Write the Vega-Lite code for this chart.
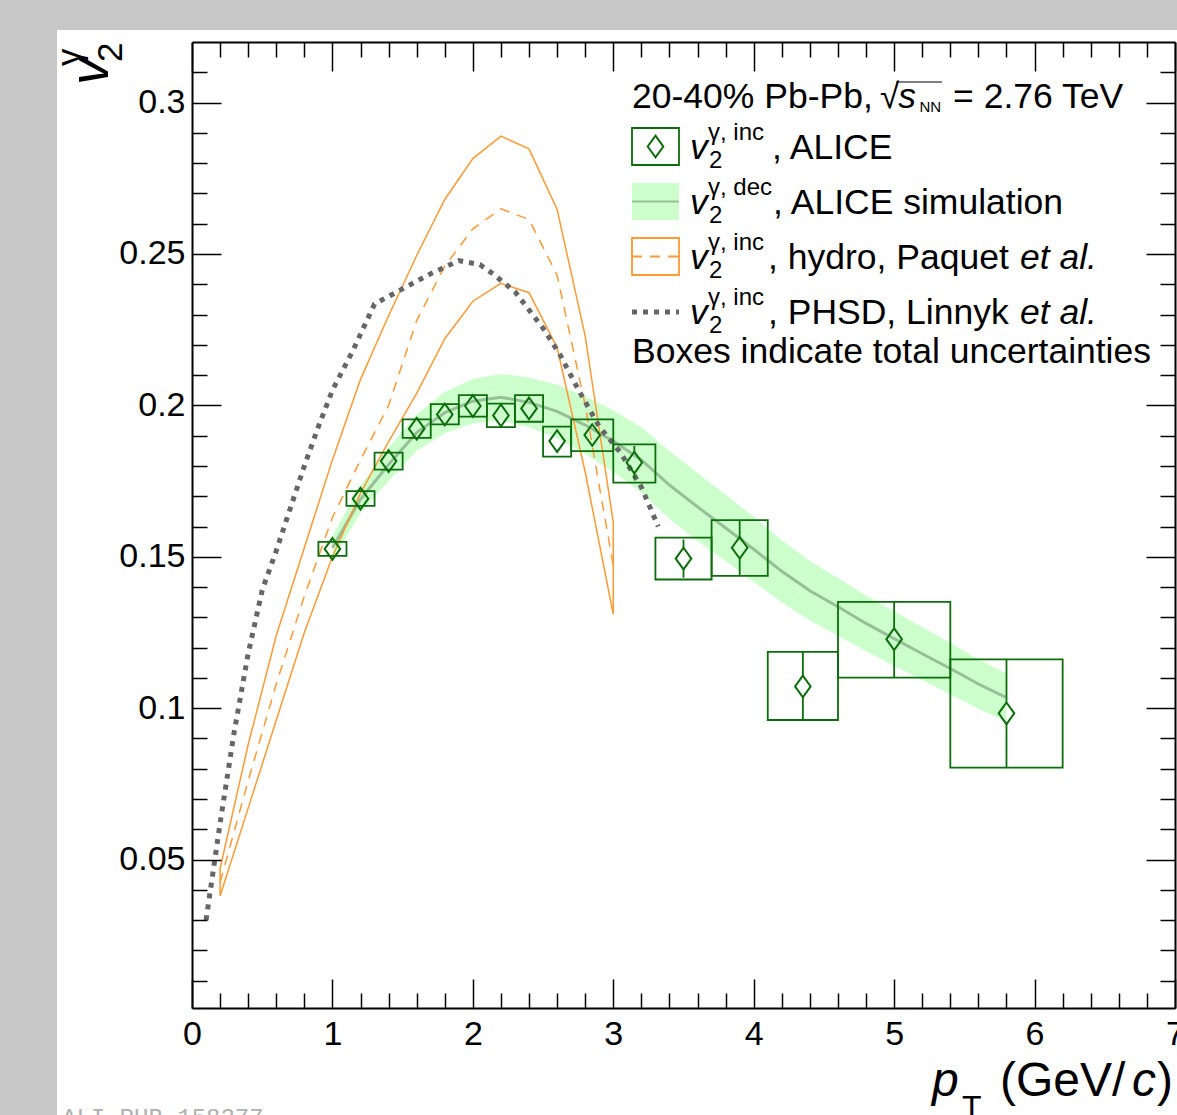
{
"$schema":"https://vega.github.io/schema/vega-lite/v6.json",
"width":983,"height":966,
"autosize":{"type":"none"},
"padding":{"left":192,"top":42,"right":2,"bottom":107},
"background":"#c6c7c6",
"config":{"view":{"stroke":null},"text":{"font":"Liberation Sans","color":"#000"}},
"data":{"values":[{}]},
"datasets":{
"alice":[
{"pt":1.0,"v2":0.1526,"xlo":0.9,"xhi":1.1,"slo":0.1503,"shi":0.1549},
{"pt":1.2,"v2":0.1692,"xlo":1.1,"xhi":1.3,"slo":0.1668,"shi":0.1717},
{"pt":1.4,"v2":0.1816,"xlo":1.3,"xhi":1.5,"slo":0.1788,"shi":0.1844},
{"pt":1.6,"v2":0.1923,"xlo":1.5,"xhi":1.7,"slo":0.1893,"shi":0.1954},
{"pt":1.8,"v2":0.197,"xlo":1.7,"xhi":1.9,"slo":0.1937,"shi":0.2004},
{"pt":2.0,"v2":0.1998,"xlo":1.9,"xhi":2.1,"slo":0.1963,"shi":0.2034},
{"pt":2.2,"v2":0.1967,"xlo":2.1,"xhi":2.3,"slo":0.1928,"shi":0.2006},
{"pt":2.4,"v2":0.199,"xlo":2.3,"xhi":2.5,"slo":0.1946,"shi":0.2034},
{"pt":2.6,"v2":0.1882,"xlo":2.5,"xhi":2.7,"slo":0.1831,"shi":0.193},
{"pt":2.85,"v2":0.1902,"xlo":2.7,"xhi":3.0,"slo":0.1849,"shi":0.1954},
{"pt":3.15,"v2":0.1811,"xlo":3.0,"xhi":3.3,"slo":0.1745,"shi":0.1871,"elo":0.1756,"ehi":0.1866},
{"pt":3.5,"v2":0.1494,"xlo":3.3,"xhi":3.7,"slo":0.1425,"shi":0.1563,"elo":0.1431,"ehi":0.1557},
{"pt":3.9,"v2":0.153,"xlo":3.7,"xhi":4.1,"slo":0.1437,"shi":0.1621,"elo":0.1437,"ehi":0.1621},
{"pt":4.35,"v2":0.1072,"xlo":4.1,"xhi":4.6,"slo":0.0961,"shi":0.1186,"elo":0.0961,"ehi":0.1186},
{"pt":5.0,"v2":0.1228,"xlo":4.6,"xhi":5.4,"slo":0.1101,"shi":0.1351,"elo":0.1101,"ehi":0.1351},
{"pt":5.8,"v2":0.0983,"xlo":5.4,"xhi":6.2,"slo":0.0804,"shi":0.1161,"elo":0.0804,"ehi":0.1161}
],
"band":[
{"pt":1.0,"mid":0.153,"lo":0.149,"hi":0.157},
{"pt":1.2,"mid":0.169,"lo":0.1645,"hi":0.1735},
{"pt":1.4,"mid":0.1805,"lo":0.175,"hi":0.186},
{"pt":1.6,"mid":0.191,"lo":0.185,"hi":0.197},
{"pt":1.8,"mid":0.1976,"lo":0.1908,"hi":0.2044},
{"pt":2.0,"mid":0.2014,"lo":0.1941,"hi":0.2087},
{"pt":2.2,"mid":0.2027,"lo":0.195,"hi":0.2104},
{"pt":2.4,"mid":0.201,"lo":0.1928,"hi":0.2092},
{"pt":2.6,"mid":0.198,"lo":0.1892,"hi":0.2068},
{"pt":2.8,"mid":0.1935,"lo":0.184,"hi":0.203},
{"pt":3.0,"mid":0.1882,"lo":0.178,"hi":0.1984},
{"pt":3.2,"mid":0.182,"lo":0.1712,"hi":0.1928},
{"pt":3.4,"mid":0.1737,"lo":0.1625,"hi":0.1849},
{"pt":3.6,"mid":0.1665,"lo":0.1553,"hi":0.1777},
{"pt":3.8,"mid":0.1595,"lo":0.1485,"hi":0.1705},
{"pt":4.0,"mid":0.1525,"lo":0.1418,"hi":0.1632},
{"pt":4.2,"mid":0.1452,"lo":0.1349,"hi":0.1555},
{"pt":4.4,"mid":0.1388,"lo":0.129,"hi":0.1486},
{"pt":4.6,"mid":0.1335,"lo":0.124,"hi":0.143},
{"pt":4.8,"mid":0.128,"lo":0.1188,"hi":0.1372},
{"pt":5.0,"mid":0.123,"lo":0.114,"hi":0.132},
{"pt":5.2,"mid":0.118,"lo":0.1093,"hi":0.1267},
{"pt":5.4,"mid":0.1131,"lo":0.1046,"hi":0.1216},
{"pt":5.6,"mid":0.108,"lo":0.0998,"hi":0.1162},
{"pt":5.8,"mid":0.1035,"lo":0.0955,"hi":0.1115}
],
"hydro":[
{"pt":0.2,"v2":0.038,"seq":1},{"pt":0.4,"v2":0.067,"seq":2},{"pt":0.6,"v2":0.096,"seq":3},{"pt":0.8,"v2":0.125,"seq":4},
{"pt":1.0,"v2":0.150,"seq":5},{"pt":1.2,"v2":0.171,"seq":6},{"pt":1.4,"v2":0.188,"seq":7},{"pt":1.6,"v2":0.204,"seq":8},
{"pt":1.8,"v2":0.222,"seq":9},{"pt":2.0,"v2":0.2344,"seq":10},{"pt":2.2,"v2":0.2403,"seq":11},{"pt":2.4,"v2":0.2372,"seq":12},
{"pt":2.6,"v2":0.2191,"seq":13},{"pt":2.8,"v2":0.178,"seq":14},{"pt":3.0,"v2":0.131,"seq":15},
{"pt":3.0,"v2":0.1613,"seq":16},{"pt":2.8,"v2":0.2229,"seq":17},{"pt":2.6,"v2":0.2647,"seq":18},{"pt":2.4,"v2":0.2847,"seq":19},
{"pt":2.2,"v2":0.2889,"seq":20},{"pt":2.0,"v2":0.2815,"seq":21},{"pt":1.8,"v2":0.268,"seq":22},{"pt":1.6,"v2":0.2495,"seq":23},
{"pt":1.4,"v2":0.2296,"seq":24},{"pt":1.2,"v2":0.2086,"seq":25},{"pt":1.0,"v2":0.182,"seq":26},{"pt":0.8,"v2":0.153,"seq":27},
{"pt":0.6,"v2":0.124,"seq":28},{"pt":0.4,"v2":0.088,"seq":29},{"pt":0.2,"v2":0.047,"seq":30},{"pt":0.2,"v2":0.038,"seq":31}
],
"hydroCentral":[
{"pt":0.2,"v2":0.0425},{"pt":0.4,"v2":0.076},{"pt":0.6,"v2":0.108},{"pt":0.8,"v2":0.137},{"pt":1.0,"v2":0.163},
{"pt":1.2,"v2":0.182},{"pt":1.4,"v2":0.2},{"pt":1.6,"v2":0.228},{"pt":1.8,"v2":0.246},{"pt":2.0,"v2":0.2583},
{"pt":2.2,"v2":0.2649},{"pt":2.4,"v2":0.2614},{"pt":2.6,"v2":0.243},{"pt":2.8,"v2":0.2},{"pt":3.0,"v2":0.147}
],
"phsd":[
{"pt":0.1,"v2":0.030},{"pt":0.2,"v2":0.062},{"pt":0.3,"v2":0.092},{"pt":0.4,"v2":0.118},{"pt":0.5,"v2":0.139},
{"pt":0.6,"v2":0.152},{"pt":0.7,"v2":0.166},{"pt":0.8,"v2":0.18},{"pt":0.9,"v2":0.193},{"pt":1.0,"v2":0.205},
{"pt":1.15,"v2":0.2185},{"pt":1.3,"v2":0.2335},{"pt":1.5,"v2":0.2385},{"pt":1.7,"v2":0.2435},{"pt":1.9,"v2":0.2478},
{"pt":2.05,"v2":0.2465},{"pt":2.15,"v2":0.2432},{"pt":2.3,"v2":0.2375},{"pt":2.5,"v2":0.2255},{"pt":2.62,"v2":0.2168},
{"pt":2.75,"v2":0.2053},{"pt":2.9,"v2":0.193},{"pt":3.05,"v2":0.1845},{"pt":3.2,"v2":0.173},{"pt":3.32,"v2":0.16}
]
},
"resolve":{"axis":{"x":"independent","y":"independent"}},
"layer":[
{"mark":{"type":"rect","fill":"#ffffff","stroke":null},
 "encoding":{"x":{"datum":-0.9613,"type":"quantitative","scale":{"domain":[0,7],"nice":false,"zero":false},"axis":null},
 "x2":{"datum":8},
 "y":{"datum":0.324,"type":"quantitative","scale":{"domain":[0.001,0.32],"nice":false,"zero":false},"axis":null},
 "y2":{"datum":-0.06}}},
{"data":{"name":"band"},"mark":{"type":"area","fill":"#ccffcc","opacity":1},
 "encoding":{"x":{"field":"pt","type":"quantitative","scale":{"domain":[0,7],"nice":false,"zero":false},
   "axis":{"orient":"bottom","values":[0,1,2,3,4,5,6,7],"format":"d","tickSize":-29,"tickWidth":1.5,"tickColor":"#000","domainColor":"#000","domainWidth":2,"labelFontSize":34,"labelFont":"Liberation Sans","labelColor":"#000","labelPadding":38,"labelFlush":false,"labelOverlap":false,"title":null,"grid":false,"zindex":1}},
 "y":{"field":"lo","type":"quantitative","scale":{"domain":[0.001,0.32],"nice":false,"zero":false},
   "axis":{"orient":"left","values":[0.05,0.1,0.15,0.2,0.25,0.3],"format":"~g","tickSize":-29,"tickWidth":1.5,"tickColor":"#000","domainColor":"#000","domainWidth":2,"labelFontSize":34,"labelFont":"Liberation Sans","labelColor":"#000","labelPadding":36,"labelFlush":false,"labelOverlap":false,"title":null,"grid":false,"zindex":1}},
 "y2":{"field":"hi"}}},
{"data":{"name":"band"},"mark":{"type":"line","color":"#97bf97","strokeWidth":3},
 "encoding":{"x":{"field":"pt","type":"quantitative","scale":{"domain":[0,7],"nice":false,"zero":false},
   "axis":{"orient":"bottom","values":[0.2,0.4,0.6,0.8,1.2,1.4,1.6,1.8,2.2,2.4,2.6,2.8,3.2,3.4,3.6,3.8,4.2,4.4,4.6,4.8,5.2,5.4,5.6,5.8,6.2,6.4,6.6,6.8],"tickSize":-15,"tickWidth":1.5,"tickColor":"#000","domain":false,"labels":false,"title":null,"grid":false,"zindex":1}},
 "y":{"field":"mid","type":"quantitative","scale":{"domain":[0.001,0.32],"nice":false,"zero":false},
   "axis":{"orient":"left","values":[0.01,0.02,0.03,0.04,0.06,0.07,0.08,0.09,0.11,0.12,0.13,0.14,0.16,0.17,0.18,0.19,0.21,0.22,0.23,0.24,0.26,0.27,0.28,0.29,0.31],"tickSize":-15,"tickWidth":1.5,"tickColor":"#000","domain":false,"labels":false,"title":null,"grid":false,"zindex":1}}}},
{"data":{"name":"hydro"},"mark":{"type":"line","color":"#ff9933","strokeWidth":1.5},
 "encoding":{"order":{"field":"seq","type":"quantitative"},
 "x":{"field":"pt","type":"quantitative","scale":{"domain":[0,7],"nice":false,"zero":false},
   "axis":{"orient":"top","values":[0,1,2,3,4,5,6,7],"tickSize":-29,"tickWidth":1.5,"tickColor":"#000","domainColor":"#000","domainWidth":2,"labels":false,"title":null,"grid":false,"zindex":1}},
 "y":{"field":"v2","type":"quantitative","scale":{"domain":[0.001,0.32],"nice":false,"zero":false},
   "axis":{"orient":"right","values":[0.05,0.1,0.15,0.2,0.25,0.3],"tickSize":-29,"tickWidth":1.5,"tickColor":"#000","domainColor":"#000","domainWidth":2,"labels":false,"title":null,"grid":false,"zindex":1}}}},
{"data":{"name":"hydroCentral"},"mark":{"type":"line","color":"#ff9933","strokeWidth":1.5,"strokeDash":[10,8]},
 "encoding":{"x":{"field":"pt","type":"quantitative","scale":{"domain":[0,7],"nice":false,"zero":false},
   "axis":{"orient":"top","values":[0.2,0.4,0.6,0.8,1.2,1.4,1.6,1.8,2.2,2.4,2.6,2.8,3.2,3.4,3.6,3.8,4.2,4.4,4.6,4.8,5.2,5.4,5.6,5.8,6.2,6.4,6.6,6.8],"tickSize":-15,"tickWidth":1.5,"tickColor":"#000","domain":false,"labels":false,"title":null,"grid":false,"zindex":1}},
 "y":{"field":"v2","type":"quantitative","scale":{"domain":[0.001,0.32],"nice":false,"zero":false},
   "axis":{"orient":"right","values":[0.01,0.02,0.03,0.04,0.06,0.07,0.08,0.09,0.11,0.12,0.13,0.14,0.16,0.17,0.18,0.19,0.21,0.22,0.23,0.24,0.26,0.27,0.28,0.29,0.31],"tickSize":-15,"tickWidth":1.5,"tickColor":"#000","domain":false,"labels":false,"title":null,"grid":false,"zindex":1}}}},
{"data":{"name":"phsd"},"mark":{"type":"line","color":"#666666","strokeWidth":5,"strokeDash":[5,6]},
 "encoding":{"x":{"field":"pt","type":"quantitative","scale":{"domain":[0,7],"nice":false,"zero":false},"axis":null},
 "y":{"field":"v2","type":"quantitative","scale":{"domain":[0.001,0.32],"nice":false,"zero":false},"axis":null}}},
{"data":{"name":"alice"},"mark":{"type":"rect","filled":false,"stroke":"#0b6e0b","strokeWidth":1.8},
 "encoding":{"x":{"field":"xlo","type":"quantitative","scale":{"domain":[0,7],"nice":false,"zero":false},"axis":null},
 "x2":{"field":"xhi"},
 "y":{"field":"slo","type":"quantitative","scale":{"domain":[0.001,0.32],"nice":false,"zero":false},"axis":null},
 "y2":{"field":"shi"}}},
{"data":{"name":"alice"},"transform":[{"filter":"isValid(datum.ehi)"}],"mark":{"type":"rule","color":"#0b6e0b","strokeWidth":1.8,"y2Offset":-10.8},
 "encoding":{"x":{"field":"pt","type":"quantitative","scale":{"domain":[0,7],"nice":false,"zero":false},"axis":null},
 "y":{"field":"ehi","type":"quantitative","scale":{"domain":[0.001,0.32],"nice":false,"zero":false},"axis":null},
 "y2":{"field":"v2"}}},
{"data":{"name":"alice"},"transform":[{"filter":"isValid(datum.elo)"}],"mark":{"type":"rule","color":"#0b6e0b","strokeWidth":1.8,"y2Offset":10.8},
 "encoding":{"x":{"field":"pt","type":"quantitative","scale":{"domain":[0,7],"nice":false,"zero":false},"axis":null},
 "y":{"field":"elo","type":"quantitative","scale":{"domain":[0.001,0.32],"nice":false,"zero":false},"axis":null},
 "y2":{"field":"v2"}}},
{"data":{"name":"alice"},"mark":{"type":"point","shape":"M0,-1L0.72,0L0,1L-0.72,0Z","size":470,"filled":false,"stroke":"#0b6e0b","strokeWidth":2,"opacity":1},
 "encoding":{"x":{"field":"pt","type":"quantitative","scale":{"domain":[0,7],"nice":false,"zero":false},"axis":null},
 "y":{"field":"v2","type":"quantitative","scale":{"domain":[0.001,0.32],"nice":false,"zero":false},"axis":null}}},

{"mark":{"type":"rect","filled":false,"stroke":"#0b6e0b","strokeWidth":1.8},
 "encoding":{"x":{"datum":3.1333,"type":"quantitative","scale":{"domain":[0,7],"nice":false,"zero":false},"axis":null},"x2":{"datum":3.4679},
 "y":{"datum":0.2916,"type":"quantitative","scale":{"domain":[0.001,0.32],"nice":false,"zero":false},"axis":null},"y2":{"datum":0.27938}}},
{"mark":{"type":"point","shape":"M0,-1L0.72,0L0,1L-0.72,0Z","size":470,"filled":false,"stroke":"#0b6e0b","strokeWidth":2,"opacity":1},
 "encoding":{"x":{"datum":3.3006,"type":"quantitative","scale":{"domain":[0,7],"nice":false,"zero":false},"axis":null},
 "y":{"datum":0.28549,"type":"quantitative","scale":{"domain":[0.001,0.32],"nice":false,"zero":false},"axis":null}}},
{"mark":{"type":"rect","fill":"#ccffcc","stroke":null},
 "encoding":{"x":{"datum":3.1333,"type":"quantitative","scale":{"domain":[0,7],"nice":false,"zero":false},"axis":null},"x2":{"datum":3.4679},
 "y":{"datum":0.27344,"type":"quantitative","scale":{"domain":[0.001,0.32],"nice":false,"zero":false},"axis":null},"y2":{"datum":0.26122}}},
{"mark":{"type":"rule","color":"#97bf97","strokeWidth":2},
 "encoding":{"x":{"datum":3.1333,"type":"quantitative","scale":{"domain":[0,7],"nice":false,"zero":false},"axis":null},"x2":{"datum":3.4679},
 "y":{"datum":0.26733,"type":"quantitative","scale":{"domain":[0.001,0.32],"nice":false,"zero":false},"axis":null}}},
{"mark":{"type":"rect","filled":false,"stroke":"#ff9933","strokeWidth":1.8},
 "encoding":{"x":{"datum":3.1333,"type":"quantitative","scale":{"domain":[0,7],"nice":false,"zero":false},"axis":null},"x2":{"datum":3.4679},
 "y":{"datum":0.25528,"type":"quantitative","scale":{"domain":[0.001,0.32],"nice":false,"zero":false},"axis":null},"y2":{"datum":0.24306}}},
{"mark":{"type":"rule","color":"#ff9933","strokeWidth":1.8,"strokeDash":[10,8]},
 "encoding":{"x":{"datum":3.1333,"type":"quantitative","scale":{"domain":[0,7],"nice":false,"zero":false},"axis":null},"x2":{"datum":3.4679},
 "y":{"datum":0.24917,"type":"quantitative","scale":{"domain":[0.001,0.32],"nice":false,"zero":false},"axis":null}}},
{"mark":{"type":"rule","color":"#666666","strokeWidth":5,"strokeDash":[5,6]},
 "encoding":{"x":{"datum":3.1333,"type":"quantitative","scale":{"domain":[0,7],"nice":false,"zero":false},"axis":null},"x2":{"datum":3.4679},
 "y":{"datum":0.23084,"type":"quantitative","scale":{"domain":[0.001,0.32],"nice":false,"zero":false},"axis":null}}},

{"mark":{"type":"text","text":"20-40% Pb-Pb,","fontSize":35.5,"align":"left","baseline":"alphabetic"},
 "encoding":{"x":{"datum":3.1333,"type":"quantitative","scale":{"domain":[0,7],"nice":false,"zero":false},"axis":null},
 "y":{"datum":0.2982,"type":"quantitative","scale":{"domain":[0.001,0.32],"nice":false,"zero":false},"axis":null}}},
{"mark":{"type":"text","text":"√","fontSize":35,"align":"left","baseline":"alphabetic"},
 "encoding":{"x":{"datum":4.9,"type":"quantitative","scale":{"domain":[0,7],"nice":false,"zero":false},"axis":null},
 "y":{"datum":0.2982,"type":"quantitative","scale":{"domain":[0.001,0.32],"nice":false,"zero":false},"axis":null}}},
{"mark":{"type":"rule","color":"#000","strokeWidth":1.2},
 "encoding":{"x":{"datum":5.015,"type":"quantitative","scale":{"domain":[0,7],"nice":false,"zero":false},"axis":null},"x2":{"datum":5.34},
 "y":{"datum":0.30679,"type":"quantitative","scale":{"domain":[0.001,0.32],"nice":false,"zero":false},"axis":null}}},
{"mark":{"type":"text","text":"s","fontSize":35.5,"fontStyle":"italic","align":"left","baseline":"alphabetic"},
 "encoding":{"x":{"datum":5.03,"type":"quantitative","scale":{"domain":[0,7],"nice":false,"zero":false},"axis":null},
 "y":{"datum":0.2982,"type":"quantitative","scale":{"domain":[0.001,0.32],"nice":false,"zero":false},"axis":null}}},
{"mark":{"type":"text","text":"NN","fontSize":15,"align":"left","baseline":"alphabetic"},
 "encoding":{"x":{"datum":5.18,"type":"quantitative","scale":{"domain":[0,7],"nice":false,"zero":false},"axis":null},
 "y":{"datum":0.29688,"type":"quantitative","scale":{"domain":[0.001,0.32],"nice":false,"zero":false},"axis":null}}},
{"mark":{"type":"text","text":"= 2.76 TeV","fontSize":35.5,"align":"left","baseline":"alphabetic"},
 "encoding":{"x":{"datum":5.42,"type":"quantitative","scale":{"domain":[0,7],"nice":false,"zero":false},"axis":null},
 "y":{"datum":0.2982,"type":"quantitative","scale":{"domain":[0.001,0.32],"nice":false,"zero":false},"axis":null}}},

{"mark":{"type":"text","text":"v","fontSize":35.5,"fontStyle":"italic","align":"left","baseline":"alphabetic"},
 "encoding":{"x":{"datum":3.5462,"type":"quantitative","scale":{"domain":[0,7],"nice":false,"zero":false},"axis":null},
 "y":{"datum":0.28136,"type":"quantitative","scale":{"domain":[0.001,0.32],"nice":false,"zero":false},"axis":null}}},
{"mark":{"type":"text","text":"γ, inc","fontSize":24,"align":"left","baseline":"alphabetic"},
 "encoding":{"x":{"datum":3.6744,"type":"quantitative","scale":{"domain":[0,7],"nice":false,"zero":false},"axis":null},
 "y":{"datum":0.28764,"type":"quantitative","scale":{"domain":[0.001,0.32],"nice":false,"zero":false},"axis":null}}},
{"mark":{"type":"text","text":"2","fontSize":24,"align":"left","baseline":"alphabetic"},
 "encoding":{"x":{"datum":3.6816,"type":"quantitative","scale":{"domain":[0,7],"nice":false,"zero":false},"axis":null},
 "y":{"datum":0.27839,"type":"quantitative","scale":{"domain":[0.001,0.32],"nice":false,"zero":false},"axis":null}}},
{"mark":{"type":"text","text":", ALICE","fontSize":35.5,"align":"left","baseline":"alphabetic"},
 "encoding":{"x":{"datum":4.1302,"type":"quantitative","scale":{"domain":[0,7],"nice":false,"zero":false},"axis":null},
 "y":{"datum":0.28136,"type":"quantitative","scale":{"domain":[0.001,0.32],"nice":false,"zero":false},"axis":null}}},

{"mark":{"type":"text","text":"v","fontSize":35.5,"fontStyle":"italic","align":"left","baseline":"alphabetic"},
 "encoding":{"x":{"datum":3.5462,"type":"quantitative","scale":{"domain":[0,7],"nice":false,"zero":false},"axis":null},
 "y":{"datum":0.2632,"type":"quantitative","scale":{"domain":[0.001,0.32],"nice":false,"zero":false},"axis":null}}},
{"mark":{"type":"text","text":"γ, dec","fontSize":24,"align":"left","baseline":"alphabetic"},
 "encoding":{"x":{"datum":3.6744,"type":"quantitative","scale":{"domain":[0,7],"nice":false,"zero":false},"axis":null},
 "y":{"datum":0.26948,"type":"quantitative","scale":{"domain":[0.001,0.32],"nice":false,"zero":false},"axis":null}}},
{"mark":{"type":"text","text":"2","fontSize":24,"align":"left","baseline":"alphabetic"},
 "encoding":{"x":{"datum":3.6816,"type":"quantitative","scale":{"domain":[0,7],"nice":false,"zero":false},"axis":null},
 "y":{"datum":0.26023,"type":"quantitative","scale":{"domain":[0.001,0.32],"nice":false,"zero":false},"axis":null}}},
{"mark":{"type":"text","text":", ALICE simulation","fontSize":35.5,"align":"left","baseline":"alphabetic"},
 "encoding":{"x":{"datum":4.1373,"type":"quantitative","scale":{"domain":[0,7],"nice":false,"zero":false},"axis":null},
 "y":{"datum":0.2632,"type":"quantitative","scale":{"domain":[0.001,0.32],"nice":false,"zero":false},"axis":null}}},

{"mark":{"type":"text","text":"v","fontSize":35.5,"fontStyle":"italic","align":"left","baseline":"alphabetic"},
 "encoding":{"x":{"datum":3.5462,"type":"quantitative","scale":{"domain":[0,7],"nice":false,"zero":false},"axis":null},
 "y":{"datum":0.24504,"type":"quantitative","scale":{"domain":[0.001,0.32],"nice":false,"zero":false},"axis":null}}},
{"mark":{"type":"text","text":"γ, inc","fontSize":24,"align":"left","baseline":"alphabetic"},
 "encoding":{"x":{"datum":3.6744,"type":"quantitative","scale":{"domain":[0,7],"nice":false,"zero":false},"axis":null},
 "y":{"datum":0.25131,"type":"quantitative","scale":{"domain":[0.001,0.32],"nice":false,"zero":false},"axis":null}}},
{"mark":{"type":"text","text":"2","fontSize":24,"align":"left","baseline":"alphabetic"},
 "encoding":{"x":{"datum":3.6816,"type":"quantitative","scale":{"domain":[0,7],"nice":false,"zero":false},"axis":null},
 "y":{"datum":0.24207,"type":"quantitative","scale":{"domain":[0.001,0.32],"nice":false,"zero":false},"axis":null}}},
{"mark":{"type":"text","text":", hydro, Paquet","fontSize":35.5,"align":"left","baseline":"alphabetic"},
 "encoding":{"x":{"datum":4.1017,"type":"quantitative","scale":{"domain":[0,7],"nice":false,"zero":false},"axis":null},
 "y":{"datum":0.24504,"type":"quantitative","scale":{"domain":[0.001,0.32],"nice":false,"zero":false},"axis":null}}},
{"mark":{"type":"text","text":"et al.","fontSize":35.5,"fontStyle":"italic","align":"left","baseline":"alphabetic"},
 "encoding":{"x":{"datum":5.8962,"type":"quantitative","scale":{"domain":[0,7],"nice":false,"zero":false},"axis":null},
 "y":{"datum":0.24504,"type":"quantitative","scale":{"domain":[0.001,0.32],"nice":false,"zero":false},"axis":null}}},

{"mark":{"type":"text","text":"v","fontSize":35.5,"fontStyle":"italic","align":"left","baseline":"alphabetic"},
 "encoding":{"x":{"datum":3.5462,"type":"quantitative","scale":{"domain":[0,7],"nice":false,"zero":false},"axis":null},
 "y":{"datum":0.22688,"type":"quantitative","scale":{"domain":[0.001,0.32],"nice":false,"zero":false},"axis":null}}},
{"mark":{"type":"text","text":"γ, inc","fontSize":24,"align":"left","baseline":"alphabetic"},
 "encoding":{"x":{"datum":3.6744,"type":"quantitative","scale":{"domain":[0,7],"nice":false,"zero":false},"axis":null},
 "y":{"datum":0.23315,"type":"quantitative","scale":{"domain":[0.001,0.32],"nice":false,"zero":false},"axis":null}}},
{"mark":{"type":"text","text":"2","fontSize":24,"align":"left","baseline":"alphabetic"},
 "encoding":{"x":{"datum":3.6816,"type":"quantitative","scale":{"domain":[0,7],"nice":false,"zero":false},"axis":null},
 "y":{"datum":0.2239,"type":"quantitative","scale":{"domain":[0.001,0.32],"nice":false,"zero":false},"axis":null}}},
{"mark":{"type":"text","text":", PHSD, Linnyk","fontSize":35.5,"align":"left","baseline":"alphabetic"},
 "encoding":{"x":{"datum":4.1017,"type":"quantitative","scale":{"domain":[0,7],"nice":false,"zero":false},"axis":null},
 "y":{"datum":0.22688,"type":"quantitative","scale":{"domain":[0.001,0.32],"nice":false,"zero":false},"axis":null}}},
{"mark":{"type":"text","text":"et al.","fontSize":35.5,"fontStyle":"italic","align":"left","baseline":"alphabetic"},
 "encoding":{"x":{"datum":5.8962,"type":"quantitative","scale":{"domain":[0,7],"nice":false,"zero":false},"axis":null},
 "y":{"datum":0.22688,"type":"quantitative","scale":{"domain":[0.001,0.32],"nice":false,"zero":false},"axis":null}}},
{"mark":{"type":"text","text":"Boxes indicate total uncertainties","fontSize":35.5,"align":"left","baseline":"alphabetic"},
 "encoding":{"x":{"datum":3.1333,"type":"quantitative","scale":{"domain":[0,7],"nice":false,"zero":false},"axis":null},
 "y":{"datum":0.214,"type":"quantitative","scale":{"domain":[0.001,0.32],"nice":false,"zero":false},"axis":null}}},

{"mark":{"type":"text","text":"v","fontSize":55,"fontStyle":"italic","align":"left","baseline":"alphabetic","angle":270},
 "encoding":{"x":{"datum":-0.5982,"type":"quantitative","scale":{"domain":[0,7],"nice":false,"zero":false},"axis":null},
 "y":{"datum":0.3058,"type":"quantitative","scale":{"domain":[0.001,0.32],"nice":false,"zero":false},"axis":null}}},
{"mark":{"type":"text","text":"2","fontSize":35,"align":"left","baseline":"alphabetic","angle":270},
 "encoding":{"x":{"datum":-0.4985,"type":"quantitative","scale":{"domain":[0,7],"nice":false,"zero":false},"axis":null},
 "y":{"datum":0.3134,"type":"quantitative","scale":{"domain":[0.001,0.32],"nice":false,"zero":false},"axis":null}}},
{"mark":{"type":"text","text":"γ","fontSize":35,"align":"left","baseline":"alphabetic","angle":270},
 "encoding":{"x":{"datum":-0.7904,"type":"quantitative","scale":{"domain":[0,7],"nice":false,"zero":false},"axis":null},
 "y":{"datum":0.3121,"type":"quantitative","scale":{"domain":[0.001,0.32],"nice":false,"zero":false},"axis":null}}},

{"mark":{"type":"text","text":"p","fontSize":48,"fontStyle":"italic","align":"left","baseline":"alphabetic"},
 "encoding":{"x":{"datum":5.2696,"type":"quantitative","scale":{"domain":[0,7],"nice":false,"zero":false},"axis":null},
 "y":{"datum":-0.02806,"type":"quantitative","scale":{"domain":[0.001,0.32],"nice":false,"zero":false},"axis":null}}},
{"mark":{"type":"text","text":"T","fontSize":32,"align":"left","baseline":"alphabetic"},
 "encoding":{"x":{"datum":5.4832,"type":"quantitative","scale":{"domain":[0,7],"nice":false,"zero":false},"axis":null},
 "y":{"datum":-0.03533,"type":"quantitative","scale":{"domain":[0.001,0.32],"nice":false,"zero":false},"axis":null}}},
{"mark":{"type":"text","text":"(GeV/","fontSize":48,"align":"left","baseline":"alphabetic"},
 "encoding":{"x":{"datum":5.7538,"type":"quantitative","scale":{"domain":[0,7],"nice":false,"zero":false},"axis":null},
 "y":{"datum":-0.02806,"type":"quantitative","scale":{"domain":[0.001,0.32],"nice":false,"zero":false},"axis":null}}},
{"mark":{"type":"text","text":"c","fontSize":48,"fontStyle":"italic","align":"left","baseline":"alphabetic"},
 "encoding":{"x":{"datum":6.6937,"type":"quantitative","scale":{"domain":[0,7],"nice":false,"zero":false},"axis":null},
 "y":{"datum":-0.02806,"type":"quantitative","scale":{"domain":[0.001,0.32],"nice":false,"zero":false},"axis":null}}},
{"mark":{"type":"text","text":")","fontSize":48,"align":"left","baseline":"alphabetic"},
 "encoding":{"x":{"datum":6.8718,"type":"quantitative","scale":{"domain":[0,7],"nice":false,"zero":false},"axis":null},
 "y":{"datum":-0.02806,"type":"quantitative","scale":{"domain":[0.001,0.32],"nice":false,"zero":false},"axis":null}}},
{"mark":{"type":"text","text":"ALI-PUB-158377","font":"Liberation Mono","fontSize":24,"color":"#b0b0b0","align":"left","baseline":"alphabetic"},
 "encoding":{"x":{"datum":-0.9257,"type":"quantitative","scale":{"domain":[0,7],"nice":false,"zero":false},"axis":null},
 "y":{"datum":-0.0378,"type":"quantitative","scale":{"domain":[0.001,0.32],"nice":false,"zero":false},"axis":null}}}
]
}
